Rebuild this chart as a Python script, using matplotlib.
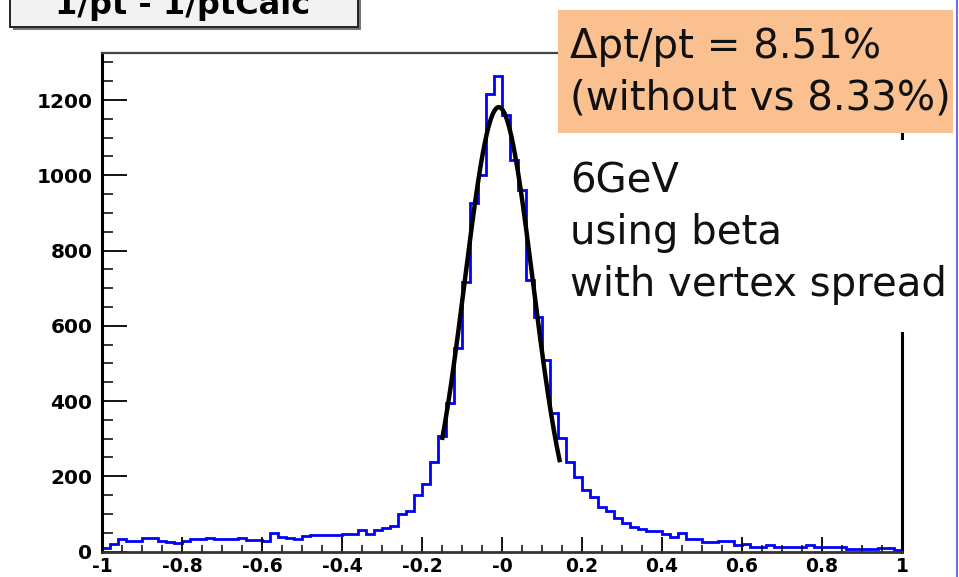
import numpy as np
import matplotlib.pyplot as plt
from matplotlib.patches import Rectangle
from matplotlib.lines import Line2D

# 1/pt - 1/ptCalc, 100 bins over [-1, 1]
bin_edges = np.linspace(-1, 1, 101)
counts = [9, 21, 34, 28, 28, 35, 35, 27, 25, 23,
          29, 33, 33, 36, 32, 32, 32, 36, 31, 30,
          29, 48, 38, 36, 32, 42, 44, 44, 44, 44,
          47, 46, 56, 46, 57, 62, 68, 100, 108, 150,
          180, 238, 307, 394, 540, 717, 925, 1000, 1217, 1263,
          1159, 1040, 960, 721, 624, 509, 367, 301, 238, 197,
          163, 144, 119, 108, 90, 75, 66, 60, 54, 54,
          46, 38, 48, 32, 32, 26, 26, 27, 27, 17,
          19, 13, 13, 17, 12, 12, 12, 13, 17, 13,
          12, 12, 12, 6, 6, 6, 6, 8, 8, 4]

# gaussian fit result
fit_amp, fit_mean, fit_sigma = 1181, -0.008, 0.0854
fit_range = (-0.15, 0.145)

xticks = [-1, -0.8, -0.6, -0.4, -0.2, 0, 0.2, 0.4, 0.6, 0.8, 1]
xticklabels = ['-1', '-0.8', '-0.6', '-0.4', '-0.2', '-0', '0.2', '0.4', '0.6', '0.8', '1']
yticks = [0, 200, 400, 600, 800, 1000, 1200]

title = '1/pt - 1/ptCalc'
result_lines = ['\u0394pt/pt = 8.51%', '(without vs 8.33%)']
note_lines = ['6GeV', 'using beta', 'with vertex spread']

W, H = 959, 577
fig = plt.figure(figsize=(W / 100, H / 100), dpi=100)
ax = fig.add_axes([102 / W, 1 - 551.5 / H, 800 / W, (551.5 - 53) / H])

ax.stairs(counts, bin_edges, color='#0000ff', lw=2.0)
xf = np.linspace(fit_range[0], fit_range[1], 200)
yf = fit_amp * np.exp(-0.5 * ((xf - fit_mean) / fit_sigma) ** 2)
ax.plot(xf, yf, color='black', lw=3.2, solid_capstyle='butt')

ax.set_xlim(-1, 1)
ax.set_ylim(0, 1325)
ax.set_xticks(xticks)
ax.set_xticklabels(xticklabels)
ax.set_xticks(np.arange(-1, 1.001, 0.05), minor=True)
ax.set_yticks(yticks)
ax.set_yticks(np.arange(0, 1325, 50), minor=True)

ax.tick_params(axis='x', which='major', direction='in', length=11, width=1.3, pad=4,
               labelsize=13.5, colors='black')
ax.tick_params(axis='x', which='minor', direction='in', length=5, width=1.1)
ax.tick_params(axis='y', which='major', direction='in', length=18, width=1.3, pad=7,
               labelsize=14.5, colors='black')
ax.tick_params(axis='y', which='minor', direction='in', length=8, width=1.1)
for lab in ax.get_xticklabels() + ax.get_yticklabels():
    lab.set_fontweight('bold')

ax.spines['left'].set_linewidth(2.2)
ax.spines['bottom'].set_linewidth(2.0)
ax.spines['bottom'].set_color('#333333')
ax.spines['top'].set_linewidth(1.6)
ax.spines['top'].set_color('#444444')
ax.spines['right'].set_linewidth(2.2)

# title pave (cut at the top of the canvas)
fig.add_artist(Rectangle((13 / W, 1 - 30 / H), 348 / W, 40 / H,
                         facecolor='#777777', edgecolor='none', zorder=5))
fig.add_artist(Rectangle((10 / W, 1 - 27 / H), 348 / W, 40 / H,
                         facecolor='#f2f2f2', edgecolor='#222222', lw=1.4, zorder=6))
fig.text(183 / W, 1 - 14 / H, title, ha='center', va='baseline',
         fontsize=23, fontweight='bold', color='black', zorder=7)

# highlighted result
fig.add_artist(Rectangle((558 / W, 1 - 133 / H), 395 / W, 123 / H,
                         facecolor='#fac090', edgecolor='none', zorder=5))
for i, line in enumerate(result_lines):
    fig.text(570 / W, 1 - (58 + 52 * i) / H, line, ha='left', va='baseline',
             fontsize=29, color='#111111', zorder=7)

# run conditions
fig.add_artist(Rectangle((560 / W, 1 - 332 / H), 395 / W, 192 / H,
                         facecolor='white', edgecolor='none', zorder=5))
for i, line in enumerate(note_lines):
    fig.text(570 / W, 1 - (192 + 52 * i) / H, line, ha='left', va='baseline',
             fontsize=29, color='#111111', zorder=7)

fig.add_artist(Line2D([957 / W, 957 / W], [0, 1], color='#5050e0', lw=1.2, zorder=8))

fig.savefig('out.png', dpi=100)
